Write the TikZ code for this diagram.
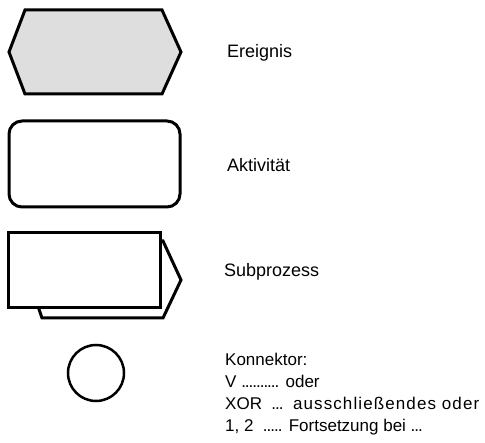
\documentclass[tikz,border=0pt]{standalone}
\usepackage{fontspec}
\setmainfont{Liberation Sans}
\newfontfamily\widefont{Liberation Sans}[LetterSpace=6.5]
\newfontfamily\dotfont{Liberation Sans}[LetterSpace=-6]
\newcommand\dotrun[1]{{\dotfont#1}}
\definecolor{eventfill}{RGB}{222,222,222}
\begin{document}
\begin{tikzpicture}[x=1pt,y=-1pt,
  outline/.style={draw=black,line width=3pt,line join=miter},
  label/.style={anchor=base west,inner sep=0pt,font=\fontsize{18}{18}\selectfont},
  keytext/.style={anchor=base west,inner sep=0pt,font=\fontsize{17}{17}\selectfont}]
\useasboundingbox (0,0) rectangle (485,443);

% event: flat hexagon
\draw[outline,fill=eventfill] (25,10) -- (162,10) -- (181,52) -- (162,94)
  -- (25,94) -- (9,52) -- cycle;
\node[label] (ereignis) at (227,58) {Ereignis};

% activity: rounded rectangle
\draw[outline,rounded corners=13pt] (9,121) rectangle (180,207);
\node[label] (aktivitaet) at (227,172) {Aktivität};

% subprocess: arrow-shaped card behind a plain rectangle
\draw[outline,fill=white] (16,241) -- (163,241) -- (181,280) -- (163,318)
  -- (42,318) -- cycle;
\draw[outline,fill=white] (8,233) rectangle (160,308);
\node[label] (subprozess) at (224,277) {Subprozess};

% connector and its legend
\node[draw=black,line width=2.5pt,circle,minimum size=56pt,inner sep=0pt] (konnektor) at (96,373) {};
\node[keytext] (k0) at (225,366) {Konnektor:};
\node[keytext] (k1) at (225,388) {V \dotrun{..........} oder};
\node[keytext] (k2) at (225,410) {XOR~~\dotrun{...}~~{\widefont ausschließendes oder}};
\node[keytext] (k3) at (225,432) {1, 2 ~\dotrun{.....} Fortsetzung bei \dotrun{...}};
\end{tikzpicture}
\end{document}
